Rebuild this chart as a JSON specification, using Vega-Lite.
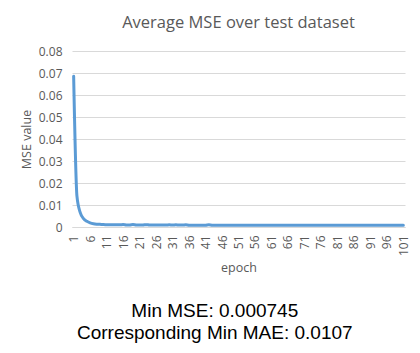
{
  "$schema": "https://vega.github.io/schema/vega-lite/v6.json",
  "background": "white",
  "padding": {"left": 20, "top": 14, "right": 5, "bottom": 5},
  "title": {
    "text": ["Min MSE: 0.000745", "Corresponding Min MAE: 0.0107"],
    "orient": "bottom",
    "anchor": "middle",
    "font": "Liberation Sans",
    "fontSize": 19,
    "fontWeight": "normal",
    "color": "#000000",
    "lineHeight": 22,
    "offset": 28
  },
  "vconcat": [
    {
      "width": 333,
      "height": 176,
      "title": {
        "text": "Average MSE over test dataset",
        "font": "Open Sans",
        "fontSize": 16.5,
        "fontWeight": "normal",
        "color": "#595959",
        "anchor": "middle",
        "offset": 14
      },
      "data": {
        "values": [
          {"epoch": 1, "mse": 0.0685}, {"epoch": 2, "mse": 0.014}, {"epoch": 3, "mse": 0.0065},
          {"epoch": 4, "mse": 0.0038}, {"epoch": 5, "mse": 0.0026}, {"epoch": 6, "mse": 0.0019},
          {"epoch": 7, "mse": 0.0015}, {"epoch": 8, "mse": 0.0013}, {"epoch": 9, "mse": 0.0012},
          {"epoch": 10, "mse": 0.0011}, {"epoch": 11, "mse": 0.00105}, {"epoch": 12, "mse": 0.001},
          {"epoch": 13, "mse": 0.001}, {"epoch": 14, "mse": 0.00098}, {"epoch": 15, "mse": 0.00097},
          {"epoch": 16, "mse": 0.0011}, {"epoch": 17, "mse": 0.00095}, {"epoch": 18, "mse": 0.00094},
          {"epoch": 19, "mse": 0.0011}, {"epoch": 20, "mse": 0.00093}, {"epoch": 21, "mse": 0.00092},
          {"epoch": 22, "mse": 0.00091}, {"epoch": 23, "mse": 0.00105}, {"epoch": 24, "mse": 0.0009},
          {"epoch": 25, "mse": 0.0009}, {"epoch": 26, "mse": 0.00089}, {"epoch": 27, "mse": 0.00088},
          {"epoch": 28, "mse": 0.00088}, {"epoch": 29, "mse": 0.00087}, {"epoch": 30, "mse": 0.00102},
          {"epoch": 31, "mse": 0.00087}, {"epoch": 32, "mse": 0.00102}, {"epoch": 33, "mse": 0.00086},
          {"epoch": 34, "mse": 0.00086}, {"epoch": 35, "mse": 0.001}, {"epoch": 36, "mse": 0.00085},
          {"epoch": 37, "mse": 0.00085}, {"epoch": 38, "mse": 0.00085}, {"epoch": 39, "mse": 0.00084},
          {"epoch": 40, "mse": 0.00084}, {"epoch": 41, "mse": 0.00084}, {"epoch": 42, "mse": 0.001},
          {"epoch": 43, "mse": 0.00083}, {"epoch": 44, "mse": 0.00083}, {"epoch": 45, "mse": 0.00083},
          {"epoch": 46, "mse": 0.00082}, {"epoch": 47, "mse": 0.00082}, {"epoch": 48, "mse": 0.00082},
          {"epoch": 49, "mse": 0.00082}, {"epoch": 50, "mse": 0.00081}, {"epoch": 51, "mse": 0.00081},
          {"epoch": 52, "mse": 0.00081}, {"epoch": 53, "mse": 0.00081}, {"epoch": 54, "mse": 0.0008},
          {"epoch": 55, "mse": 0.0008}, {"epoch": 56, "mse": 0.0008}, {"epoch": 57, "mse": 0.0008},
          {"epoch": 58, "mse": 0.0008}, {"epoch": 59, "mse": 0.00079}, {"epoch": 60, "mse": 0.00079},
          {"epoch": 61, "mse": 0.00079}, {"epoch": 62, "mse": 0.00079}, {"epoch": 63, "mse": 0.00079},
          {"epoch": 64, "mse": 0.00078}, {"epoch": 65, "mse": 0.00078}, {"epoch": 66, "mse": 0.00078},
          {"epoch": 67, "mse": 0.00078}, {"epoch": 68, "mse": 0.00078}, {"epoch": 69, "mse": 0.00077},
          {"epoch": 70, "mse": 0.00077}, {"epoch": 71, "mse": 0.00077}, {"epoch": 72, "mse": 0.00077},
          {"epoch": 73, "mse": 0.00077}, {"epoch": 74, "mse": 0.00077}, {"epoch": 75, "mse": 0.00076},
          {"epoch": 76, "mse": 0.00076}, {"epoch": 77, "mse": 0.00076}, {"epoch": 78, "mse": 0.00076},
          {"epoch": 79, "mse": 0.00076}, {"epoch": 80, "mse": 0.00076}, {"epoch": 81, "mse": 0.00076},
          {"epoch": 82, "mse": 0.00075}, {"epoch": 83, "mse": 0.00075}, {"epoch": 84, "mse": 0.00075},
          {"epoch": 85, "mse": 0.00075}, {"epoch": 86, "mse": 0.00075}, {"epoch": 87, "mse": 0.00075},
          {"epoch": 88, "mse": 0.00075}, {"epoch": 89, "mse": 0.00075}, {"epoch": 90, "mse": 0.00075},
          {"epoch": 91, "mse": 0.000748}, {"epoch": 92, "mse": 0.000748}, {"epoch": 93, "mse": 0.000747},
          {"epoch": 94, "mse": 0.000747}, {"epoch": 95, "mse": 0.000746}, {"epoch": 96, "mse": 0.000746},
          {"epoch": 97, "mse": 0.000746}, {"epoch": 98, "mse": 0.000745}, {"epoch": 99, "mse": 0.000746},
          {"epoch": 100, "mse": 0.000746}, {"epoch": 101, "mse": 0.000746}
        ]
      },
      "mark": {"type": "line", "color": "#5b9bd5", "strokeWidth": 3, "interpolate": "monotone", "strokeCap": "round"},
      "encoding": {
        "x": {
          "field": "epoch",
          "type": "quantitative",
          "scale": {"domain": [0.5, 101.5], "nice": false, "zero": false},
          "axis": {
            "title": "epoch",
            "values": [1, 6, 11, 16, 21, 26, 31, 36, 41, 46, 51, 56, 61, 66, 71, 76, 81, 86, 91, 96, 101],
            "labelAngle": -90,
            "labelPadding": 8,
            "ticks": false,
            "tickSize": 0,
            "grid": false,
            "domain": true,
            "domainColor": "#d9d9d9",
            "domainWidth": 1,
            "titlePadding": 6
          }
        },
        "y": {
          "field": "mse",
          "type": "quantitative",
          "scale": {"domain": [0, 0.08], "nice": false},
          "axis": {
            "title": "MSE value",
            "values": [0, 0.01, 0.02, 0.03, 0.04, 0.05, 0.06, 0.07, 0.08],
            "format": ".2~f",
            "ticks": false,
            "tickSize": 0,
            "domain": false,
            "grid": true,
            "gridColor": "#d9d9d9",
            "labelPadding": 10,
            "titlePadding": 5
          }
        }
      }
    }
  ],
  "config": {
    "view": {"stroke": null},
    "axis": {
      "labelFont": "Open Sans",
      "labelFontSize": 12,
      "labelColor": "#595959",
      "titleFont": "Open Sans",
      "titleFontSize": 12.5,
      "titleFontWeight": "normal",
      "titleColor": "#595959"
    }
  }
}
